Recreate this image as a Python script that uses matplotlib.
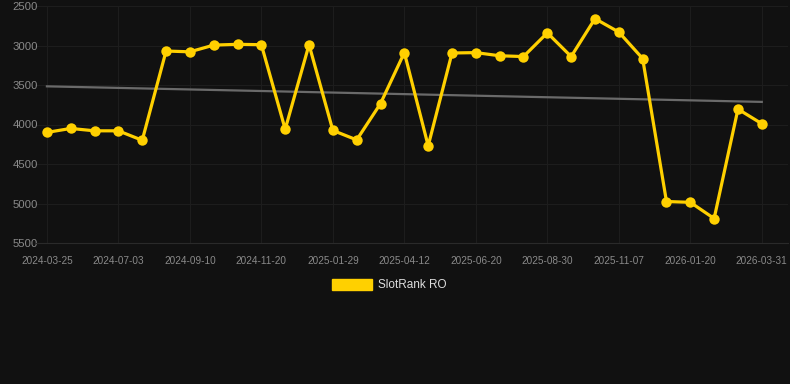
import numpy as np
import matplotlib
matplotlib.use("Agg")
from matplotlib import pyplot as plt
from matplotlib.patches import Rectangle

plt.rcParams["font.family"] = ["Liberation Sans", "DejaVu Sans"]

# SlotRank RO position, one point per date (categorical x axis)
ranks = [4100, 4050, 4080, 4080, 4200, 3070, 3080, 2995, 2985, 2990,
         4060, 2990, 4075, 4195, 3735, 3090, 4270, 3095, 3090, 3130,
         3140, 2840, 3140, 2660, 2830, 3165, 4975, 4985, 5190, 3805,
         3990]
tick_labels = ["2024-03-25", "2024-07-03", "2024-09-10", "2024-11-20",
               "2025-01-29", "2025-04-12", "2025-06-20", "2025-08-30",
               "2025-11-07", "2026-01-20", "2026-03-31"]
y_ticks = [2500, 3000, 3500, 4000, 4500, 5000, 5500]
series_name = "SlotRank RO"

BG = "#111111"
YELLOW = "#FFD000"
GRID = "#1d1d1d"

fig = plt.figure(figsize=(7.9, 3.84), dpi=100, facecolor=BG)
W, H = 790, 384
ax = fig.add_axes([35 / W, 1 - 243 / H, (788 - 35) / W, (243 - 6) / H])
ax.set_facecolor(BG)

x = np.arange(len(ranks))

# linear trend
slope, intercept = np.polyfit(x, ranks, 1)
ax.plot(x, slope * x + intercept, color="#6a6a6a", lw=1.6, zorder=2)

ax.plot(x, ranks, color=YELLOW, lw=2.3, marker="o", ms=7.5,
        markeredgewidth=0, zorder=3, solid_joinstyle="round")

ax.set_ylim(5500, 2500)
ax.set_xlim(-0.5, len(ranks) - 1 + 1.1)
ax.set_yticks(y_ticks)
ax.set_yticklabels([str(v) for v in y_ticks])
ax.set_xticks(x[::3])
ax.set_xticklabels(tick_labels)

ax.grid(True, color=GRID, lw=0.8)
ax.set_axisbelow(True)
for s in ax.spines.values():
    s.set_visible(False)
ax.spines["bottom"].set_visible(True)
ax.spines["bottom"].set_color("#2a2a2a")
ax.spines["bottom"].set_linewidth(0.8)
ax.tick_params(axis="y", length=0, pad=-2, labelsize=8.2, labelcolor="#8a8a8a")
ax.tick_params(axis="x", length=0, pad=9, labelsize=7.2, labelcolor="#8a8a8a")

# legend
fig.patches.append(Rectangle((332 / W, 1 - 290 / H), 40 / W, 11 / H,
                             transform=fig.transFigure, color=YELLOW))
fig.text(378 / W, 1 - 285 / H, series_name, color="#dddddd",
         fontsize=8.5, va="center", ha="left")

fig.savefig("out.png", dpi=100, facecolor=BG)
